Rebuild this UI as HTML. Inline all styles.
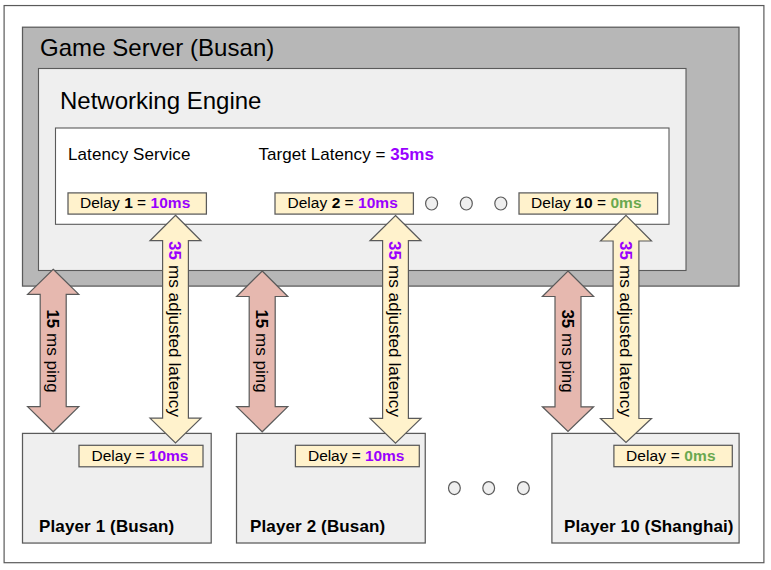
<!DOCTYPE html>
<html><head><meta charset="utf-8"><style>
html,body{margin:0;padding:0;width:771px;height:570px;overflow:hidden;background:#fff;font-family:"Liberation Sans",sans-serif;}
#root{position:relative;width:771px;height:570px;}
</style></head><body><div id="root">
<svg width="771" height="570" style="position:absolute;left:0;top:0">
<rect x="4.1" y="5.55" width="759.80" height="557.15" fill="#fff" stroke="#5a5a5a" stroke-width="1.2"/>
<rect x="22.5" y="27.2" width="716.50" height="258.90" fill="#b7b7b7" stroke="#5a5a5a" stroke-width="1.25"/>
<rect x="38.5" y="68.5" width="647.50" height="202.00" fill="#efefef" stroke="#5a5a5a" stroke-width="1.1"/>
<rect x="55.5" y="128.0" width="613.50" height="96.30" fill="#fff" stroke="#5a5a5a" stroke-width="1.1"/>
</svg>
<div style="position:absolute;left:40px;top:36.18px;font-size:24px;line-height:24px;font-weight:400;color:#000;white-space:nowrap;letter-spacing:0.05px">Game Server (Busan)</div>
<div style="position:absolute;left:60px;top:89.18px;font-size:24px;line-height:24px;font-weight:400;color:#000;white-space:nowrap;letter-spacing:0px">Networking Engine</div>
<div style="position:absolute;left:68px;top:146.11px;font-size:17px;line-height:17px;font-weight:400;color:#000;white-space:nowrap;letter-spacing:0.1px">Latency Service</div>
<div style="position:absolute;left:258.5px;top:146.11px;font-size:17px;line-height:17px;font-weight:400;color:#000;white-space:nowrap;letter-spacing:0.05px">Target Latency = <b style="color:#9900ff">35ms</b></div>
<svg width="771" height="570" style="position:absolute;left:0;top:0">
<rect x="68.0" y="192.9" width="138.40" height="21.20" fill="#fff2cc" stroke="#5a5a5a" stroke-width="1.25"/>
<rect x="275.0" y="192.9" width="138.40" height="21.20" fill="#fff2cc" stroke="#5a5a5a" stroke-width="1.25"/>
<rect x="519.0" y="192.9" width="138.60" height="21.20" fill="#fff2cc" stroke="#5a5a5a" stroke-width="1.25"/>
</svg>
<div style="position:absolute;left:80px;top:195.08px;font-size:15.5px;line-height:15.5px;font-weight:400;color:#000;white-space:nowrap;letter-spacing:0.03px">Delay <b>1</b> = <b style="color:#9900ff">10ms</b></div>
<div style="position:absolute;left:287.5px;top:195.08px;font-size:15.5px;line-height:15.5px;font-weight:400;color:#000;white-space:nowrap;letter-spacing:0.03px">Delay <b>2</b> = <b style="color:#9900ff">10ms</b></div>
<div style="position:absolute;left:531px;top:195.08px;font-size:15.5px;line-height:15.5px;font-weight:400;color:#000;white-space:nowrap;letter-spacing:0.05px">Delay <b>10</b> = <b style="color:#6aa84f">0ms</b></div>
<svg width="771" height="570" style="position:absolute;left:0;top:0">
<rect x="22.5" y="433.4" width="188.70" height="109.65" fill="#efefef" stroke="#5a5a5a" stroke-width="1.25"/>
<rect x="236.5" y="433.4" width="188.75" height="109.60" fill="#efefef" stroke="#5a5a5a" stroke-width="1.25"/>
<rect x="551.9" y="433.4" width="187.20" height="109.60" fill="#efefef" stroke="#5a5a5a" stroke-width="1.25"/>
<rect x="79.0" y="445.3" width="124.00" height="21.50" fill="#fff2cc" stroke="#5a5a5a" stroke-width="1.25"/>
<rect x="295.4" y="445.3" width="123.90" height="21.40" fill="#fff2cc" stroke="#5a5a5a" stroke-width="1.25"/>
<rect x="613.9" y="445.3" width="118.40" height="21.40" fill="#fff2cc" stroke="#5a5a5a" stroke-width="1.25"/>
</svg>
<div style="position:absolute;left:91.5px;top:448.38px;font-size:15.5px;line-height:15.5px;font-weight:400;color:#000;white-space:nowrap;letter-spacing:0.0px">Delay = <b style="color:#9900ff">10ms</b></div>
<div style="position:absolute;left:308px;top:448.38px;font-size:15.5px;line-height:15.5px;font-weight:400;color:#000;white-space:nowrap;letter-spacing:-0.05px">Delay = <b style="color:#9900ff">10ms</b></div>
<div style="position:absolute;left:626px;top:448.38px;font-size:15.5px;line-height:15.5px;font-weight:400;color:#000;white-space:nowrap;letter-spacing:0.12px">Delay = <b style="color:#6aa84f">0ms</b></div>
<div style="position:absolute;left:39px;top:517.61px;font-size:17px;line-height:17px;font-weight:700;color:#000;white-space:nowrap;letter-spacing:0.13px">Player 1 (Busan)</div>
<div style="position:absolute;left:250px;top:517.61px;font-size:17px;line-height:17px;font-weight:700;color:#000;white-space:nowrap;letter-spacing:0.13px">Player 2 (Busan)</div>
<div style="position:absolute;left:564px;top:517.61px;font-size:17px;line-height:17px;font-weight:700;color:#000;white-space:nowrap;letter-spacing:0.12px">Player 10 (Shanghai)</div>
<svg width="771" height="570" style="position:absolute;left:0;top:0">
<polygon points="53.20,269.30 78.80,294.40 66.20,294.40 66.20,406.60 78.80,406.60 53.20,431.80 27.60,406.60 40.20,406.60 40.20,294.40 27.60,294.40" fill="#e6b8af" stroke="#5a5a5a" stroke-width="1.2" stroke-linejoin="miter"/>
<polygon points="262.20,271.00 287.80,296.50 275.20,296.50 275.20,406.60 287.80,406.60 262.20,431.80 236.60,406.60 249.20,406.60 249.20,296.50 236.60,296.50" fill="#e6b8af" stroke="#5a5a5a" stroke-width="1.2" stroke-linejoin="miter"/>
<polygon points="568.00,271.00 593.60,296.50 581.00,296.50 581.00,406.80 593.60,406.80 568.00,431.50 542.40,406.80 555.00,406.80 555.00,296.50 542.40,296.50" fill="#e6b8af" stroke="#5a5a5a" stroke-width="1.2" stroke-linejoin="miter"/>
<polygon points="175.50,215.30 201.00,240.70 188.40,240.70 188.40,418.20 201.00,418.20 175.50,442.90 150.00,418.20 162.60,418.20 162.60,240.70 150.00,240.70" fill="#fff2cc" stroke="#5a5a5a" stroke-width="1.2" stroke-linejoin="miter"/>
<polygon points="395.50,215.50 421.00,240.70 408.40,240.70 408.40,418.40 421.00,418.40 395.50,443.20 370.00,418.40 382.60,418.40 382.60,240.70 370.00,240.70" fill="#fff2cc" stroke="#5a5a5a" stroke-width="1.2" stroke-linejoin="miter"/>
<polygon points="626.00,215.30 651.50,241.00 638.90,241.00 638.90,418.50 651.50,418.50 626.00,442.50 600.50,418.50 613.10,418.50 613.10,241.00 600.50,241.00" fill="#fff2cc" stroke="#5a5a5a" stroke-width="1.2" stroke-linejoin="miter"/>
<ellipse cx="431.6" cy="203.5" rx="6.0" ry="6.5" fill="#efefef" stroke="#5a5a5a" stroke-width="1.2"/>
<ellipse cx="466.3" cy="203.5" rx="6.0" ry="6.5" fill="#efefef" stroke="#5a5a5a" stroke-width="1.2"/>
<ellipse cx="500.8" cy="203.5" rx="6.0" ry="6.5" fill="#efefef" stroke="#5a5a5a" stroke-width="1.2"/>
<ellipse cx="454.4" cy="488.1" rx="5.9" ry="6.5" fill="#efefef" stroke="#5a5a5a" stroke-width="1.2"/>
<ellipse cx="488.7" cy="488.1" rx="5.9" ry="6.5" fill="#efefef" stroke="#5a5a5a" stroke-width="1.2"/>
<ellipse cx="523.4" cy="488.1" rx="5.9" ry="6.5" fill="#efefef" stroke="#5a5a5a" stroke-width="1.2"/>
</svg>
<div style="position:absolute;left:52px;top:350.5px;width:0;height:0"><div style="position:absolute;left:0;top:0;transform:translate(-50%,-50%) rotate(90deg);font-size:17px;line-height:17px;white-space:nowrap;letter-spacing:0px"><b>15</b> ms ping</div></div>
<div style="position:absolute;left:261.2px;top:350.5px;width:0;height:0"><div style="position:absolute;left:0;top:0;transform:translate(-50%,-50%) rotate(90deg);font-size:17px;line-height:17px;white-space:nowrap;letter-spacing:0px"><b>15</b> ms ping</div></div>
<div style="position:absolute;left:567px;top:350.5px;width:0;height:0"><div style="position:absolute;left:0;top:0;transform:translate(-50%,-50%) rotate(90deg);font-size:17px;line-height:17px;white-space:nowrap;letter-spacing:0px"><b>35</b> ms ping</div></div>
<div style="position:absolute;left:174px;top:329px;width:0;height:0"><div style="position:absolute;left:0;top:0;transform:translate(-50%,-50%) rotate(90deg);font-size:17px;line-height:17px;white-space:nowrap;letter-spacing:0.1px"><b style="color:#9900ff">35</b> ms adjusted latency</div></div>
<div style="position:absolute;left:394px;top:329px;width:0;height:0"><div style="position:absolute;left:0;top:0;transform:translate(-50%,-50%) rotate(90deg);font-size:17px;line-height:17px;white-space:nowrap;letter-spacing:0.1px"><b style="color:#9900ff">35</b> ms adjusted latency</div></div>
<div style="position:absolute;left:624.5px;top:329px;width:0;height:0"><div style="position:absolute;left:0;top:0;transform:translate(-50%,-50%) rotate(90deg);font-size:17px;line-height:17px;white-space:nowrap;letter-spacing:0.1px"><b style="color:#9900ff">35</b> ms adjusted latency</div></div>
</div></body></html>
